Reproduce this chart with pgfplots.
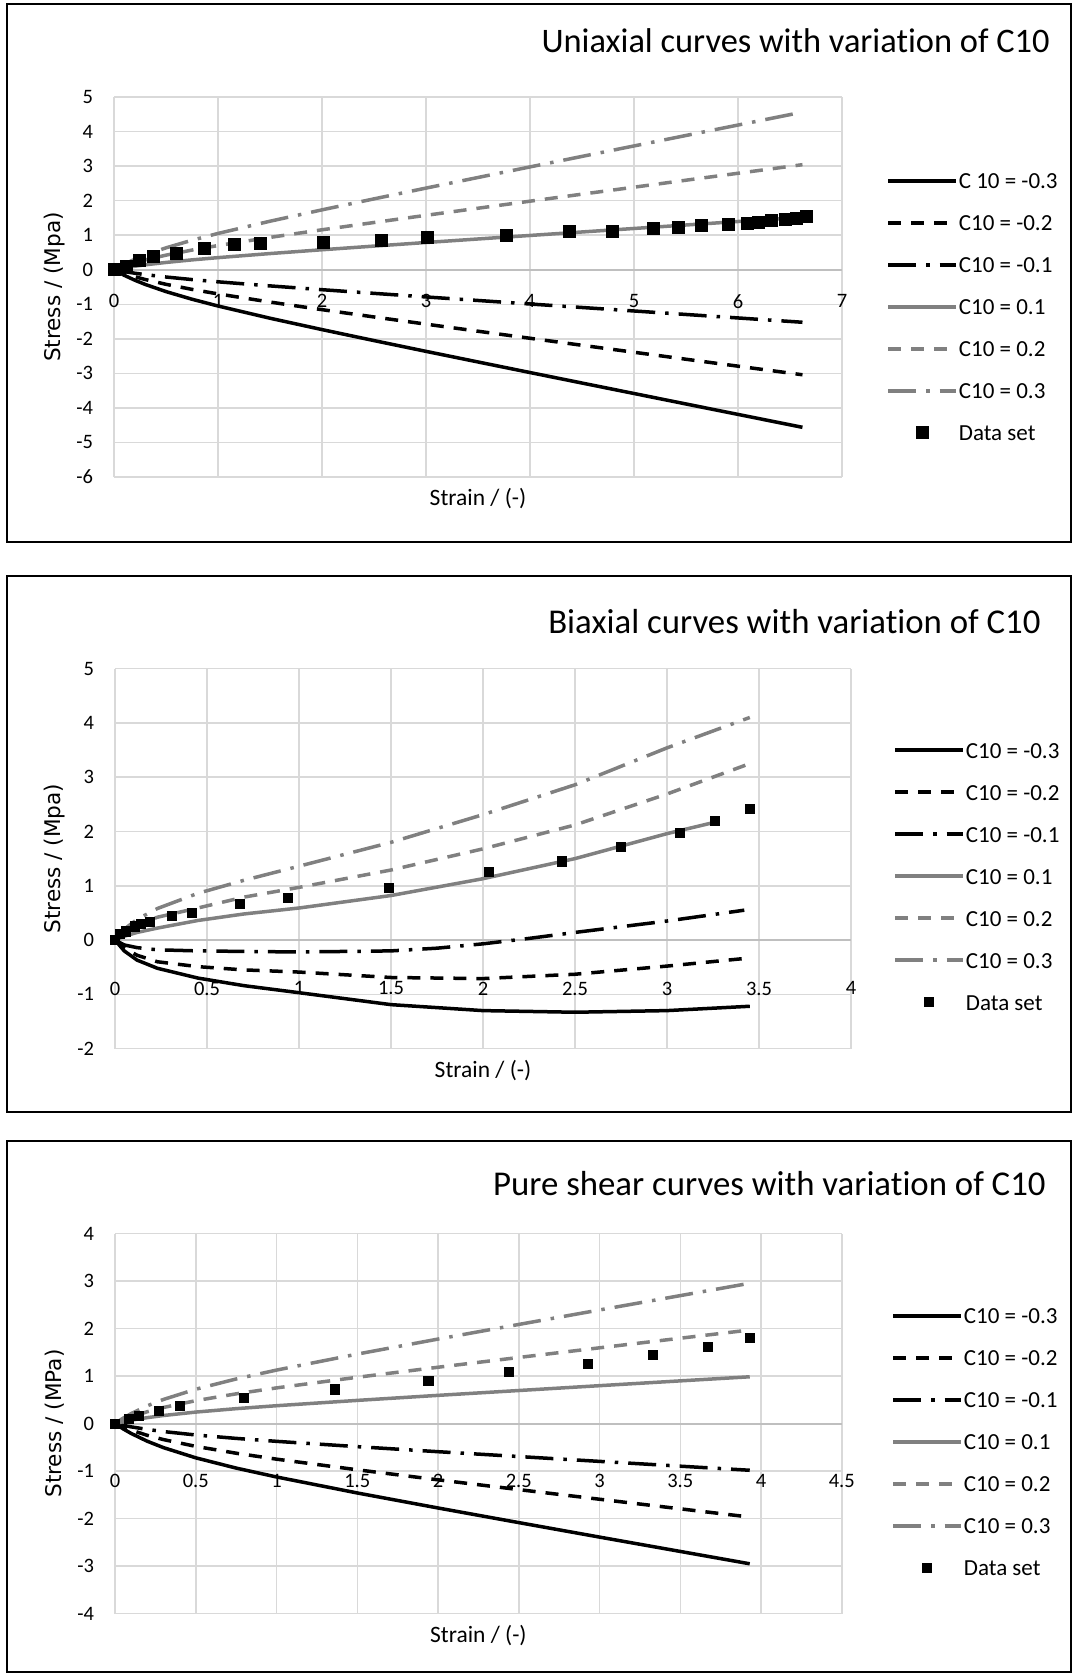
\documentclass[border=0pt]{standalone}
\usepackage{fontspec}
\setmainfont{Carlito}[Ligatures={TeX,NoCommon}]
\newfontfamily\dejavu{DejaVu Sans}
\usepackage{pgfplots}
\usepackage{pgfplotstable}
\pgfplotsset{compat=1.18}

\definecolor{gridgray}{HTML}{D9D9D9}
\definecolor{axisgray}{HTML}{BFBFBF}
\definecolor{curvegray}{HTML}{808080}

% uniaxial: strain, C10 = -0.3 -0.2 -0.1 0.1 0.2 0.3
\pgfplotstableread{
e     m3     m2     m1     p1    p2    p3
0     0      0      0      0     0     0
0.05  -0.086 -0.057 -0.029 0.029 0.057 0.086
0.1   -0.164 -0.109 -0.055 0.055 0.109 0.164
0.2   -0.303 -0.202 -0.101 0.101 0.202 0.303
0.3   -0.425 -0.283 -0.142 0.142 0.283 0.425
0.5   -0.633 -0.422 -0.211 0.211 0.422 0.633
0.75  -0.854 -0.569 -0.285 0.285 0.569 0.854
1     -1.050 -0.700 -0.350 0.350 0.700 1.050
1.5   -1.404 -0.936 -0.468 0.468 0.936 1.404
2     -1.733 -1.156 -0.578 0.578 1.156 1.733
2.5   -2.051 -1.367 -0.684 0.684 1.367 2.051
3     -2.363 -1.575 -0.788 0.788 1.575 2.363
3.5   -2.670 -1.780 -0.890 0.890 1.780 2.670
4     -2.976 -1.984 -0.992 0.992 1.984 2.976
4.5   -3.280 -2.187 -1.093 1.093 2.187 3.280
5     -3.583 -2.389 -1.194 1.194 2.389 3.583
5.5   -3.886 -2.591 -1.295 1.295 2.591 3.886
6     -4.188 -2.792 -1.396 1.396 2.792 4.188
6.62  -4.562 -3.041 -1.521 1.521 3.041 4.562
}\uniax

\pgfplotstableread{
e     s
0     0
0.12  0.09
0.24  0.26
0.38  0.375
0.60  0.48
0.87  0.62
1.16  0.73
1.41  0.76
2.01  0.79
2.57  0.86
3.01  0.95
3.77  0.98
4.38  1.10
4.79  1.12
5.19  1.19
5.43  1.23
5.65  1.27
5.91  1.30
6.09  1.34
6.20  1.37
6.32  1.43
6.46  1.46
6.56  1.49
6.66  1.53
}\uniaxdata

% pure shear
\pgfplotstableread{
e     m3     m2     m1     p1    p2    p3
0     0      0      0      0     0     0
0.05  -0.112 -0.074 -0.037 0.037 0.074 0.112
0.1   -0.209 -0.139 -0.070 0.070 0.139 0.209
0.2   -0.373 -0.249 -0.124 0.124 0.249 0.373
0.3   -0.507 -0.338 -0.169 0.169 0.338 0.507
0.5   -0.722 -0.481 -0.241 0.241 0.481 0.722
0.75  -0.938 -0.625 -0.313 0.313 0.625 0.938
1     -1.125 -0.750 -0.375 0.375 0.750 1.125
1.5   -1.462 -0.974 -0.487 0.487 0.974 1.462
2     -1.778 -1.185 -0.593 0.593 1.185 1.778
2.5   -2.086 -1.391 -0.695 0.695 1.391 2.086
3     -2.391 -1.594 -0.797 0.797 1.594 2.391
3.5   -2.693 -1.796 -0.898 0.898 1.796 2.693
3.93  -2.953 -1.969 -0.984 0.984 1.969 2.953
}\shear

\pgfplotstableread{
e     s
0     0
0.084 0.09
0.15  0.16
0.27  0.26
0.40  0.37
0.80  0.54
1.36  0.72
1.94  0.90
2.44  1.09
2.93  1.25
3.33  1.44
3.67  1.61
3.93  1.81
}\sheardata

\pgfplotsset{
  c10panel/.style={
    scale only axis,
    axis x line=middle, axis y line=left,
    x axis line style={-, draw=axisgray, line width=1pt},
    y axis line style={-, draw=gridgray, line width=0.75pt},
    grid=major, grid style={draw=gridgray, line width=0.75pt},
    major tick length=0pt,
    hide obscured x ticks=false, hide obscured y ticks=false,
    /pgf/number format/assume math mode=true,
    tick label style={font=\fontsize{10.25}{12}\selectfont},
    yticklabel style={xshift=-7pt},
    xticklabel style={yshift=-8.8pt},
    every axis x label/.style={at={(axis description cs:0.5,0)}, anchor=center, yshift=-11pt, font=\fontsize{11.75}{14}\selectfont},
    every axis y label/.style={anchor=center, rotate=90, font=\dejavu\fontsize{10.8}{13}\selectfont},
    clip=false,
    legend style={draw=none, fill=none, inner xsep=0pt, inner ysep=0pt, anchor=west,
      row sep=13pt, /tikz/column sep=0.5pt, font=\fontsize{11.5}{13}\selectfont,
      nodes={inner sep=0pt, text height=8pt, text depth=0pt}},
    legend cell align=left,
    legend image code/.code={\draw[mark repeat=2,mark phase=2,##1] plot coordinates {(0pt,0pt) (17pt,0pt) (34pt,0pt)};},
  },
  cm3/.style={black, solid, line width=1.75pt},
  cm2/.style={black, line width=1.75pt, dash pattern=on 6.5pt off 5pt},
  cm1/.style={black, line width=1.75pt, dash pattern=on 14pt off 5pt on 1.75pt off 5pt},
  cp1/.style={curvegray, solid, line width=1.75pt},
  cp2/.style={curvegray, line width=1.75pt, dash pattern=on 6.5pt off 5pt},
  cp3/.style={curvegray, line width=1.75pt, dash pattern=on 14pt off 5pt on 1.75pt off 5pt},
}

\begin{document}
\begin{tikzpicture}
\path[use as bounding box] (0,0) rectangle (537pt,-837pt);

% frames and titles
\draw[black, line width=1pt] (3.5pt,-2pt) rectangle (535.5pt,-271pt);
\draw[black, line width=1pt] (3.5pt,-288pt) rectangle (535.5pt,-556pt);
\draw[black, line width=1pt] (3.5pt,-570.5pt) rectangle (535.5pt,-836pt);
\node[anchor=base east, font=\fontsize{17.2}{20}\selectfont, inner sep=0pt] at (525pt,-26.5pt) {Uniaxial curves with variation of C10};
\node[anchor=base east, font=\fontsize{17.4}{20}\selectfont, inner sep=0pt] at (520.5pt,-316.5pt) {Biaxial curves with variation of C10};
\node[anchor=base east, font=\fontsize{17.4}{20}\selectfont, inner sep=0pt] at (523pt,-597.5pt) {Pure shear curves with variation of C10};

% uniaxial
\begin{axis}[c10panel,
  at={(57pt,-238.5pt)}, anchor=south west,
  width=364pt, height=190pt,
  xmin=0, xmax=7, ymin=-6, ymax=5,
  xtick={0,1,...,7}, ytick={-6,-5,...,5},
  xlabel={Strain / (-)}, ylabel={Stress / (Mpa)},
  ylabel style={at={(axis description cs:-0.081,0.5)}},
  legend style={at={(axis description cs:1.0604,0.448)}},
]
\addplot[cm3] table[x=e, y=m3] {\uniax};
\addlegendentry{C 10 = -0.3}
\addplot[cm2] table[x=e, y=m2] {\uniax};
\addlegendentry{C10 = -0.2}
\addplot[cm1] table[x=e, y=m1] {\uniax};
\addlegendentry{C10 = -0.1}
\addplot[cp1] table[x=e, y=p1] {\uniax};
\addlegendentry{C10 = 0.1}
\addplot[cp2] table[x=e, y=p2] {\uniax};
\addlegendentry{C10 = 0.2}
\addplot[cp3] table[x=e, y=p3] {\uniax};
\addlegendentry{C10 = 0.3}
\addplot[only marks, mark=square*, mark size=3pt, black] table[x=e, y=s] {\uniaxdata};
\addlegendentry{Data set}
\end{axis}

% biaxial
\begin{axis}[c10panel,
  at={(57.5pt,-524.3pt)}, anchor=south west,
  width=368pt, height=190pt,
  xmin=0, xmax=4, ymin=-2, ymax=5,
  xtick={0,0.5,1,1.5,2,2.5,3,3.5,4}, ytick={-2,-1,...,5},
  xticklabel style={yshift=-8.5pt},
  xlabel={Strain / (-)}, ylabel={Stress / (Mpa)},
  ylabel style={at={(axis description cs:-0.0815,0.5)}},
  legend style={at={(axis description cs:1.057,0.454)}},
]
\addplot[cm3] coordinates {(0,0) (0.05,-0.20) (0.12,-0.37) (0.23,-0.52) (0.45,-0.70) (0.7,-0.84) (1,-0.97) (1.5,-1.19) (2,-1.30) (2.5,-1.33) (3,-1.30) (3.45,-1.22)};
\addlegendentry{C10 = -0.3}
\addplot[cm2] coordinates {(0,0) (0.05,-0.15) (0.12,-0.28) (0.23,-0.40) (0.45,-0.49) (0.7,-0.55) (1,-0.59) (1.5,-0.69) (2,-0.71) (2.5,-0.63) (3,-0.48) (3.45,-0.33)};
\addlegendentry{C10 = -0.2}
\addplot[cm1] coordinates {(0,0) (0.05,-0.09) (0.12,-0.14) (0.23,-0.18) (0.45,-0.20) (0.7,-0.21) (1,-0.22) (1.5,-0.20) (1.75,-0.15) (2,-0.07) (2.25,0.03) (2.5,0.14) (3,0.35) (3.42,0.55)};
\addlegendentry{C10 = -0.1}
\addplot[cp1] coordinates {(0,0) (0.05,0.07) (0.12,0.14) (0.23,0.22) (0.45,0.36) (0.7,0.48) (1,0.59) (1.5,0.82) (2,1.13) (2.5,1.50) (3,1.96) (3.26,2.17)};
\addlegendentry{C10 = 0.1}
\addplot[cp2] coordinates {(0,0) (0.05,0.15) (0.12,0.28) (0.23,0.42) (0.45,0.59) (0.7,0.79) (1,0.97) (1.5,1.29) (2,1.68) (2.5,2.12) (3,2.69) (3.45,3.25)};
\addlegendentry{C10 = 0.2}
\addplot[cp3] coordinates {(0,0) (0.05,0.20) (0.12,0.38) (0.23,0.58) (0.45,0.86) (0.7,1.10) (1,1.36) (1.5,1.80) (2,2.31) (2.5,2.86) (3,3.54) (3.45,4.10)};
\addlegendentry{C10 = 0.3}
\addplot[only marks, mark=square*, mark size=2.3pt, black] coordinates {(0,0) (0.027,0.11) (0.06,0.16) (0.11,0.25) (0.14,0.29) (0.19,0.33) (0.31,0.45) (0.42,0.50) (0.68,0.66) (0.94,0.77) (1.49,0.96) (2.03,1.25) (2.43,1.45) (2.75,1.71) (3.07,1.98) (3.26,2.20) (3.45,2.42)};
\addlegendentry{Data set}
\end{axis}

% pure shear
\begin{axis}[c10panel,
  at={(57.5pt,-806.75pt)}, anchor=south west,
  width=363.4pt, height=190pt,
  xmin=0, xmax=4.5, ymin=-4, ymax=4,
  xtick={0,0.5,1,1.5,2,2.5,3,3.5,4,4.5}, ytick={-4,-3,...,4},
  xticklabel style={yshift=-13pt},
  xlabel={Strain / (-)}, ylabel={Stress / (MPa)},
  ylabel style={at={(axis description cs:-0.0826,0.5)}},
  legend style={at={(axis description cs:1.0677,0.4516)}},
]
\addplot[cm3] table[x=e, y=m3] {\shear};
\addlegendentry{C10 = -0.3}
\addplot[cm2] table[x=e, y=m2] {\shear};
\addlegendentry{C10 = -0.2}
\addplot[cm1] table[x=e, y=m1] {\shear};
\addlegendentry{C10 = -0.1}
\addplot[cp1] table[x=e, y=p1] {\shear};
\addlegendentry{C10 = 0.1}
\addplot[cp2] table[x=e, y=p2] {\shear};
\addlegendentry{C10 = 0.2}
\addplot[cp3] table[x=e, y=p3] {\shear};
\addlegendentry{C10 = 0.3}
\addplot[only marks, mark=square*, mark size=2.3pt, black] table[x=e, y=s] {\sheardata};
\addlegendentry{Data set}
\end{axis}
\end{tikzpicture}
\end{document}
